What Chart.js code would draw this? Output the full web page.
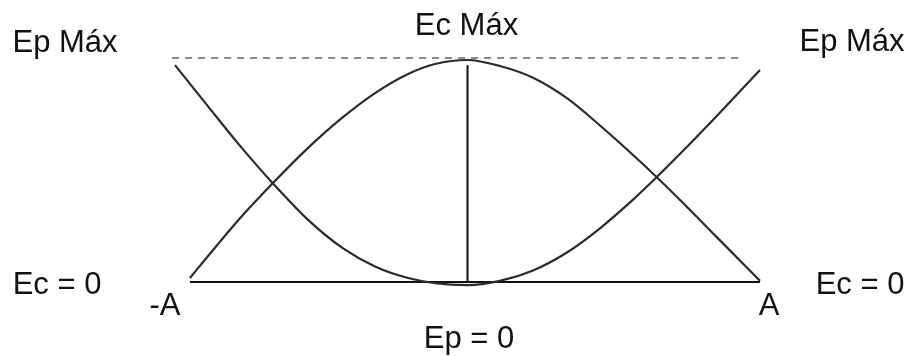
<!DOCTYPE html>
<html>
<head>
<meta charset="utf-8">
<title>Ep / Ec</title>
<script src="https://cdn.jsdelivr.net/npm/chart.js@4.4.1/dist/chart.umd.min.js"></script>
<style>
  html, body { margin: 0; padding: 0; background: #ffffff; }
  #wrap { width: 912px; height: 356px; position: relative; }
</style>
</head>
<body>
<div id="wrap"><canvas id="energyChart"></canvas></div>
<script>
// position x in units of A, energy in units of E max
const epX = [-1.000, -0.887, -0.771, -0.665, -0.545, -0.429, -0.316, -0.203, -0.111, 0.000, 0.111, 0.224, 0.340, 0.453, 0.566, 0.648, 0.737, 0.853, 1.000];
const epY = [0.977, 0.791, 0.603, 0.444, 0.280, 0.155, 0.070, 0.018, -0.005, -0.014, 0.005, 0.052, 0.133, 0.242, 0.371, 0.474, 0.591, 0.749, 0.955];

const ecX = [-0.949, -0.887, -0.771, -0.665, -0.545, -0.429, -0.316, -0.203, -0.111, 0.000, 0.111, 0.224, 0.340, 0.453, 0.566, 0.648, 0.737, 0.853, 1.000];
const ecY = [0.018, 0.117, 0.297, 0.446, 0.604, 0.739, 0.851, 0.937, 0.982, 1.000, 0.973, 0.920, 0.828, 0.705, 0.572, 0.471, 0.356, 0.201, 0.005];

const baseX = [-0.949, 1.000];
const baseY = [0, 0];

const midX = [0, 0];
const midY = [0, 0.977];

const maxX = [-1.010, 0.931];
const maxY = [1.009, 1.009];

const labelTexts = ["Ep Máx", "Ec Máx", "Ep Máx", "Ec = 0", "-A", "Ep = 0", "A", "Ec = 0"];

function toPoints(xs, ys) {
  return xs.map((x, i) => ({ x: x, y: ys[i] }));
}

// anchor in data units, offset in pixels
const labelPlacement = [
  { ax: -1, ay: 1, dx: -110, dy: -8 },
  { ax: 0, ay: 1, dx: -1, dy: -25 },
  { ax: 1, ay: 1, dx: 92, dy: -9 },
  { ax: -1, ay: 0, dx: -118, dy: 12 },
  { ax: -1, ay: 0, dx: -10, dy: 33 },
  { ax: 0, ay: 0, dx: 1.5, dy: 66 },
  { ax: 1, ay: 0, dx: 9, dy: 33 },
  { ax: 1, ay: 0, dx: 100, dy: 12 }
];

const textLabels = {
  id: "textLabels",
  afterDraw(chart) {
    const ctx = chart.ctx;
    const xs = chart.scales.x;
    const ys = chart.scales.y;
    ctx.save();
    ctx.font = '31px "Liberation Sans", Arial, sans-serif';
    ctx.fillStyle = "#111111";
    ctx.textAlign = "center";
    ctx.textBaseline = "alphabetic";
    labelTexts.forEach((text, i) => {
      const p = labelPlacement[i];
      ctx.fillText(text, xs.getPixelForValue(p.ax) + p.dx, ys.getPixelForValue(p.ay) + p.dy);
    });
    ctx.restore();
  }
};

const curveStyle = {
  borderColor: "#2b2b2b",
  borderWidth: 2.2,
  pointRadius: 0,
  cubicInterpolationMode: "monotone",
  fill: false,
  clip: false
};

new Chart(document.getElementById("energyChart"), {
  type: "line",
  data: {
    datasets: [
      { label: "Ep", data: toPoints(epX, epY), ...curveStyle },
      { label: "Ec", data: toPoints(ecX, ecY), ...curveStyle },
      {
        label: "base",
        data: toPoints(baseX, baseY),
        borderColor: "#111111",
        borderWidth: 2.2,
        pointRadius: 0,
        clip: false
      },
      {
        label: "mid",
        data: toPoints(midX, midY),
        borderColor: "#111111",
        borderWidth: 2,
        pointRadius: 0,
        clip: false
      },
      {
        label: "max",
        data: toPoints(maxX, maxY),
        borderColor: "#8a8a8a",
        borderWidth: 2,
        borderDash: [7, 6],
        pointRadius: 0,
        clip: false
      }
    ]
  },
  options: {
    responsive: true,
    maintainAspectRatio: false,
    animation: false,
    layout: {
      padding: { left: 175, right: 152, top: 60, bottom: 74 }
    },
    scales: {
      x: { type: "linear", min: -1, max: 1, display: false },
      y: { type: "linear", min: 0, max: 1, display: false }
    },
    plugins: {
      legend: { display: false },
      tooltip: { enabled: false }
    }
  },
  plugins: [textLabels]
});
</script>
</body>
</html>
